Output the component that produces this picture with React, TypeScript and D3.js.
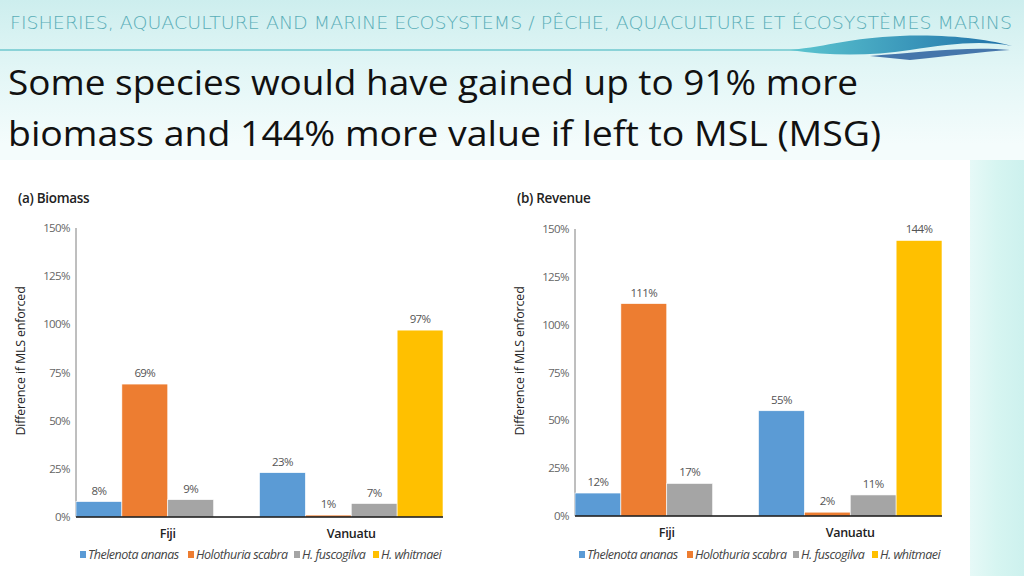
import * as d3 from "d3";

const countries = ["Fiji", "Vanuatu"];
const species = ["Thelenota ananas", "Holothuria scabra", "H. fuscogilva", "H. whitmaei"];
const speciesColors = ["#5B9BD5", "#ED7D31", "#A5A5A5", "#FFC000"];
const yTicks = [0, 25, 50, 75, 100, 125, 150];

// null = species not present in that country
const biomassFiji = [8, 69, 9, null];
const biomassVanuatu = [23, 1, 7, 97];
const revenueFiji = [12, 111, 17, null];
const revenueVanuatu = [55, 2, 11, 144];

const legendOffsets = [4, 112, 218, 297];

type Panel = {
  title: string;
  x0: number;
  x1: number;
  yTop: number;
  yBottom: number;
  rows: (number | null)[][];
};

const panels: Panel[] = [
  { title: "(a) Biomass", x0: 76, x1: 443, yTop: 228, yBottom: 517, rows: [biomassFiji, biomassVanuatu] },
  { title: "(b) Revenue", x0: 575, x1: 942, yTop: 229, yBottom: 516, rows: [revenueFiji, revenueVanuatu] },
];

function BarPanel({ p }: { p: Panel }) {
  const y = d3.scaleLinear().domain([0, 150]).range([p.yBottom, p.yTop]);
  const x = d3.scaleBand<string>().domain(countries).range([p.x0, p.x1]).paddingInner(0).paddingOuter(0);
  const xs = d3.scaleBand<string>().domain(species).range([0, x.bandwidth()]).padding(0);
  const font = "'Open Sans', 'Noto Sans', sans-serif";
  return (
    <g>
      <text x={p.x0 - 58} y={203} fontFamily={font} fontSize={13.5} fontWeight={600} fill="#222" letterSpacing={-0.3}>
        {p.title}
      </text>
      <text
        transform={`translate(${p.x0 - 51},${361}) rotate(-90)`}
        textAnchor="middle"
        fontFamily={font}
        fontSize={12.5}
        fill="#222"
        letterSpacing={-0.2}
      >
        Difference if MLS enforced
      </text>
      {yTicks.map((t) => (
        <text key={t} x={p.x0 - 6} y={y(t) + 4} textAnchor="end" fontFamily={font} fontSize={11.5} fill="#666" letterSpacing={-0.6}>
          {t}%
        </text>
      ))}
      <line x1={p.x0} x2={p.x0} y1={p.yTop} y2={p.yBottom} stroke="#7f7f7f" strokeWidth={1} />
      {countries.map((c, ci) =>
        p.rows[ci].map((v, si) => {
          if (v === null) return null;
          const bx = (x(c) ?? 0) + (xs(species[si]) ?? 0);
          return (
            <g key={c + si}>
              <rect x={bx} y={y(v)} width={xs.bandwidth()} height={p.yBottom - y(v)} fill={speciesColors[si]} stroke="#fff" strokeWidth={0.6} />
              <text x={bx + xs.bandwidth() / 2} y={y(v) - 7} textAnchor="middle" fontFamily={font} fontSize={11.5} fill="#555" letterSpacing={-0.6}>
                {v}%
              </text>
            </g>
          );
        })
      )}
      <line x1={p.x0} x2={p.x1} y1={p.yBottom} y2={p.yBottom} stroke="#111" strokeWidth={1.5} />
      {countries.map((c) => (
        <text key={c} x={(x(c) ?? 0) + x.bandwidth() / 2} y={p.yBottom + 21} textAnchor="middle" fontFamily={font} fontSize={12.5} fontWeight={600} fill="#222" letterSpacing={-0.3}>
          {c}
        </text>
      ))}
      {species.map((s, i) => (
        <g key={s} transform={`translate(${p.x0 + legendOffsets[i]},${557})`}>
          <rect x={0} y={-6} width={6} height={7} fill={speciesColors[i]} />
          <text x={8} y={2} fontFamily={font} fontSize={12.5} fontStyle="italic" fill="#444" letterSpacing={-0.5}>
            {s}
          </text>
        </g>
      ))}
    </g>
  );
}

export default function App() {
  return (
    <svg width={1024} height={576} style={{ position: "absolute", left: 0, top: 0 }}>
      <defs>
        <linearGradient id="bg" x1="0" y1="0" x2="0" y2="1">
          <stop offset="0" stopColor="#cdeeee" />
          <stop offset="0.12" stopColor="#e2f6f6" />
          <stop offset="0.25" stopColor="#f4fcfc" />
          <stop offset="1" stopColor="#f4fcfc" />
        </linearGradient>
        <linearGradient id="side" x1="0" y1="0" x2="1" y2="0">
          <stop offset="0" stopColor="#e6f9f7" />
          <stop offset="0.5" stopColor="#d6f5f1" />
          <stop offset="1" stopColor="#cdf1ee" />
        </linearGradient>
        <linearGradient id="wave" x1="0" y1="0" x2="1" y2="0">
          <stop offset="0" stopColor="#5cc6d0" />
          <stop offset="1" stopColor="#1e6fa8" />
        </linearGradient>
      </defs>
      <rect width={1024} height={576} fill="url(#bg)" />
      <rect x={970} y={160} width={54} height={416} fill="url(#side)" />
      <text
        x={10}
        y={29}
        textLength={1002}
        lengthAdjust="spacingAndGlyphs"
        fontFamily="'DejaVu Sans', sans-serif"
        fontWeight={200}
        fontSize={18}
        fill="#5aaeb8"
      >
        FISHERIES, AQUACULTURE AND MARINE ECOSYSTEMS / PÊCHE, AQUACULTURE ET ÉCOSYSTÈMES MARINS
      </text>
      <line x1={0} x2={800} y1={50} y2={50} stroke="#6fc9cf" strokeWidth={1.5} />
      <path d="M790,50 C830,46 850,38 900,36 C950,34 990,40 1012,46 C980,40 950,44 910,50 C870,56 830,56 790,50 Z" fill="url(#wave)" />
      <path d="M870,56 C920,52 970,46 1010,50 C980,52 950,56 910,60 Z" fill="#2a5f9e" opacity={0.85} />
      <text x={8} y={95} textLength={850} lengthAdjust="spacingAndGlyphs" fontFamily="'Open Sans', 'Noto Sans', sans-serif" fontSize={35} fill="#111">
        Some species would have gained up to 91% more
      </text>
      <text x={8} y={146} textLength={873} lengthAdjust="spacingAndGlyphs" fontFamily="'Open Sans', 'Noto Sans', sans-serif" fontSize={35} fill="#111">
        biomass and 144% more value if left to MSL (MSG)
      </text>
      <rect x={0} y={160} width={970} height={416} fill="#ffffff" />
      {panels.map((p) => (
        <BarPanel key={p.title} p={p} />
      ))}
    </svg>
  );
}
